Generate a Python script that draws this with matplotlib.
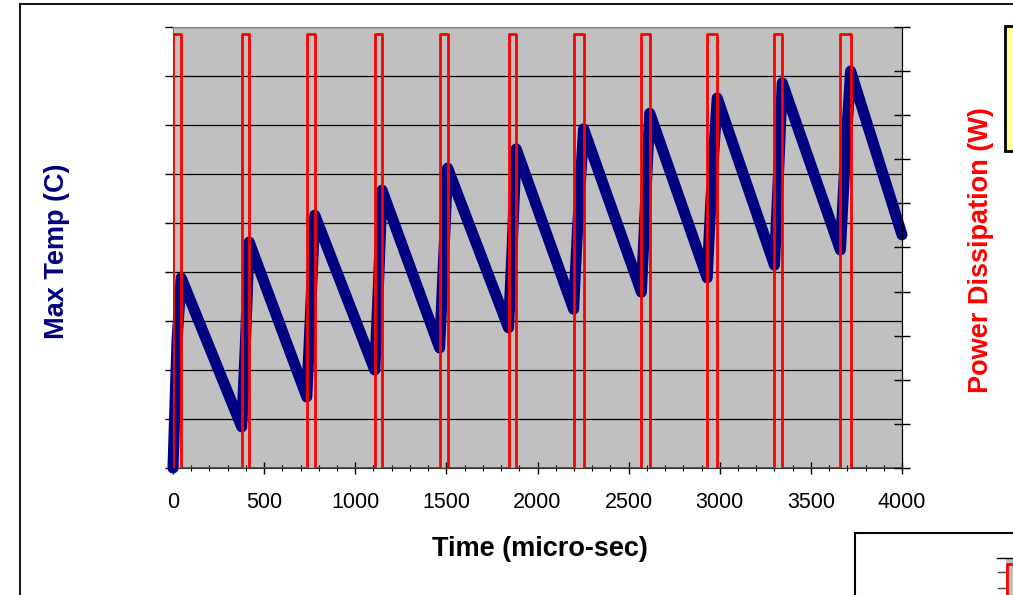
import numpy as np
import matplotlib
matplotlib.use("Agg")
import matplotlib.pyplot as plt
from matplotlib.patches import Rectangle
from matplotlib.lines import Line2D
from matplotlib.ticker import MultipleLocator

plt.rcParams['font.family'] = ['Liberation Sans', 'DejaVu Sans']

# 温度曲线：谷值(脉冲开始) -> 中间台阶 -> 峰值(脉冲结束)
time_pts = [0, 22, 45,
            377, 397, 418,
            734, 754, 778,
            1107, 1127, 1147,
            1463, 1483, 1507,
            1841, 1861, 1883,
            2198, 2220, 2253,
            2570, 2590, 2616,
            2931, 2952, 2986,
            3300, 3320, 3343,
            3662, 3685, 3718,
            4000]
temp_pts = [20.0, 46.0, 58.8,
            28.4, 45.0, 66.1,
            34.5, 51.0, 71.6,
            40.0, 57.0, 76.7,
            44.5, 61.0, 81.2,
            48.6, 65.0, 85.1,
            52.4, 69.0, 89.2,
            55.9, 72.0, 92.4,
            58.8, 75.0, 95.5,
            61.4, 78.0, 98.6,
            64.5, 81.0, 101.0,
            67.6]

# 功率脉冲
pulse_start = [0, 377, 734, 1107, 1463, 1841, 2198, 2570, 2931, 3300, 3662]
pulse_end = [45, 418, 778, 1147, 1507, 1883, 2253, 2616, 2986, 3343, 3718]
pulse_power = 4.92

xticks = [0, 500, 1000, 1500, 2000, 2500, 3000, 3500, 4000]

# 阶梯形的功率序列
pt, pw = [], []
for s, e in zip(pulse_start, pulse_end):
    pt += [s, s, e, e]
    pw += [0, pulse_power, pulse_power, 0]
pt.append(4000)
pw.append(0)

W, H = 1013, 595
fig = plt.figure(figsize=(W / 100, H / 100), dpi=100)

def fx(x):
    return x / W

def fy(y):
    return 1 - y / H

ax = fig.add_axes([fx(173), fy(468), fx(902) - fx(173), fy(27) - fy(468)])
ax.set_facecolor('#C0C0C0')
ax.set_xlim(0, 4000)
ax.set_ylim(20, 110)
ax.yaxis.set_major_locator(MultipleLocator(10))
ax.grid(axis='y', color='black', linewidth=0.9)
ax.set_axisbelow(True)
ax.plot(time_pts, temp_pts, color='#000080', linewidth=8, solid_joinstyle='round',
        solid_capstyle='round', clip_on=False, zorder=3)

ax.set_xticks(xticks)
ax.xaxis.set_minor_locator(MultipleLocator(100))
ax.tick_params(axis='x', which='major', direction='inout', length=9, width=1,
               labelsize=15.5, pad=13)
ax.tick_params(axis='x', which='minor', direction='inout', length=4.5, width=0.8)
ax.tick_params(axis='y', direction='out', length=6, width=1, labelleft=False)
for side in ['top', 'left']:
    ax.spines[side].set_color('#808080')
ax.spines['bottom'].set_color('#333333')

ax2 = ax.twinx()
ax2.set_ylim(0, 5)
ax2.yaxis.set_major_locator(MultipleLocator(0.5))
ax2.plot(pt, pw, color='#FF0000', linewidth=2, zorder=4)
ax2.tick_params(axis='y', direction='inout', length=12, width=1, labelright=False)
ax2.spines['right'].set_color('black')
for side in ['top', 'left', 'bottom']:
    ax2.spines[side].set_visible(False)

fig.text(fx(57), fy(251), 'Max Temp (C)', rotation=90, ha='center', va='center',
         fontsize=19.5, fontweight='bold', color='#000080')
fig.text(fx(981), fy(250), 'Power Dissipation (W)', rotation=90, ha='center', va='center',
         fontsize=19.5, fontweight='bold', color='#FF0000')
fig.text(fx(540), fy(549), 'Time (micro-sec)', ha='center', va='center',
         fontsize=19.5, fontweight='bold', color='black')

# 外框
fig.add_artist(Line2D([fx(20), fx(1013)], [fy(4), fy(4)], color='black', linewidth=1.3))
fig.add_artist(Line2D([fx(20), fx(20)], [fy(4), fy(595)], color='black', linewidth=1.3))

# 右上角图例框（被裁掉）
fig.add_artist(Rectangle((fx(1005), fy(151)), fx(40), fy(26) - fy(151),
                         facecolor='#FFFF99', edgecolor='black', linewidth=2))

# 右下角另一张图（被裁掉）
fig.add_artist(Rectangle((fx(855), fy(610)), fx(200), fy(533) - fy(610),
                         facecolor='white', edgecolor='black', linewidth=1.5))
fig.add_artist(Rectangle((fx(1006), fy(610)), fx(20), fy(558) - fy(610),
                         facecolor='#C0C0C0', edgecolor='none'))
fig.add_artist(Line2D([fx(997), fx(1013)], [fy(558), fy(558)], color='black', linewidth=1))
for yy in [572, 588]:
    fig.add_artist(Line2D([fx(998), fx(1006)], [fy(yy), fy(yy)], color='#444444', linewidth=1))
fig.add_artist(Line2D([fx(1006.5), fx(1006.5), fx(1013)], [fy(600), fy(564), fy(564)],
                      color='#FF0000', linewidth=2))

fig.savefig('out.png', dpi=100)
